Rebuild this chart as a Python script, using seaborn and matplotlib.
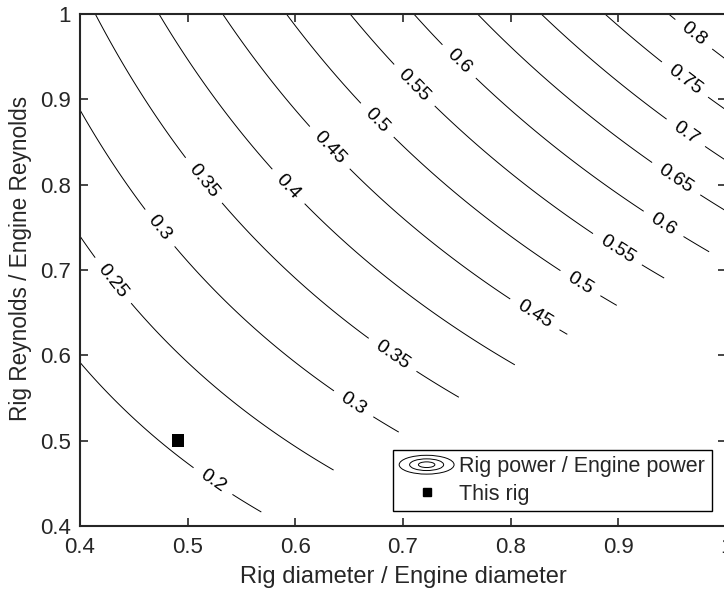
import numpy as np
import pandas as pd
import matplotlib
matplotlib.use("Agg")
import matplotlib.pyplot as plt
import seaborn as sns
from matplotlib.legend_handler import HandlerBase
from matplotlib.patches import Ellipse
from matplotlib.lines import Line2D

# power ratio field: P = k * D * Re
power_coeff = 0.845
# contours stop below this Re/D ratio (lower right region left blank)
min_re_over_d = 0.732
d_range = [0.4, 1.0]
re_range = [0.4, 1.0]
levels = [0.2, 0.25, 0.3, 0.35, 0.4, 0.45, 0.5, 0.55, 0.6, 0.65, 0.7, 0.75, 0.8]

# where each contour label sits (D, Re)
label_spots = [
    (0.521, 0.448), (0.431, 0.688), (0.472, 0.747), (0.653, 0.541),
    (0.513, 0.803), (0.690, 0.600), (0.592, 0.796), (0.630, 0.841),
    (0.821, 0.645), (0.674, 0.873), (0.863, 0.681), (0.711, 0.917),
    (0.900, 0.726), (0.751, 0.943), (0.940, 0.750), (0.950, 0.800),
    (0.960, 0.856), (0.960, 0.920), (0.968, 0.973),
]

rig_d = [0.491]
rig_re = [0.5]

x_ticks = [0.4, 0.5, 0.6, 0.7, 0.8, 0.9, 1.0]
y_ticks = [0.4, 0.5, 0.6, 0.7, 0.8, 0.9, 1.0]


class RingProxy:
    pass


class HandlerRings(HandlerBase):
    def create_artists(self, legend, orig_handle, xdescent, ydescent,
                       width, height, fontsize, trans):
        cx = width / 2 - xdescent
        cy = height / 2 - ydescent
        arts = []
        for f in (1.0, 0.62, 0.3):
            arts.append(Ellipse((cx, cy), width * f, height * 1.25 * f,
                                fill=False, ec="black", lw=0.7,
                                transform=trans))
        return arts


sns.set_style("ticks")
plt.rcParams["font.family"] = ["Liberation Sans", "DejaVu Sans"]

fig = plt.figure(figsize=(7.24, 5.96), dpi=100)
ax = fig.add_axes([80 / 724, 70 / 596, 646 / 724, 512 / 596])

d = np.linspace(d_range[0], d_range[1], 601)
re = np.linspace(re_range[0], re_range[1], 601)
D, R = np.meshgrid(d, re)
P = power_coeff * D * R
P = np.where(R / D >= min_re_over_d, P, np.nan)

cs = ax.contour(D, R, P, levels=levels, colors="black", linewidths=0.7)
ax.clabel(cs, fmt="%g", fontsize=14, inline=True, inline_spacing=10,
          manual=label_spots)

rig = pd.DataFrame({"d": rig_d, "re": rig_re})
sns.scatterplot(data=rig, x="d", y="re", marker="s", color="black",
                s=80, edgecolor="none", ax=ax, legend=False, zorder=5)

ax.set_xlim(d_range)
ax.set_ylim(re_range)
ax.set_xticks(x_ticks)
ax.set_yticks(y_ticks)
ax.set_xticklabels([f"{v:g}" for v in x_ticks])
ax.set_yticklabels([f"{v:g}" for v in y_ticks])
ax.tick_params(direction="in", length=6, width=1.2, top=True, right=True,
               labelsize=16)
ax.tick_params(axis="x", pad=8)
ax.tick_params(axis="y", pad=6.5)
for s in ax.spines.values():
    s.set_linewidth(1.5)
    s.set_visible(True)

ax.set_xlabel("Rig diameter / Engine diameter", fontsize=17, labelpad=6)
ax.set_ylabel("Rig Reynolds / Engine Reynolds", fontsize=16.3)
ax.yaxis.set_label_coords(-0.074, 0.523)

rig_handle = Line2D([], [], marker="s", color="black", linestyle="none",
                    markersize=6)
leg = ax.legend([RingProxy(), rig_handle],
                ["Rig power / Engine power", "This rig"],
                handler_map={RingProxy: HandlerRings()},
                loc="lower right", bbox_to_anchor=(0.978, 0.029),
                borderaxespad=0, fontsize=15.5, handlelength=2.55,
                handletextpad=0.25, labelspacing=0.3, borderpad=0.3,
                fancybox=False, framealpha=1, edgecolor="black")
leg.get_frame().set_linewidth(1.0)

fig.savefig("out.png", dpi=100)
